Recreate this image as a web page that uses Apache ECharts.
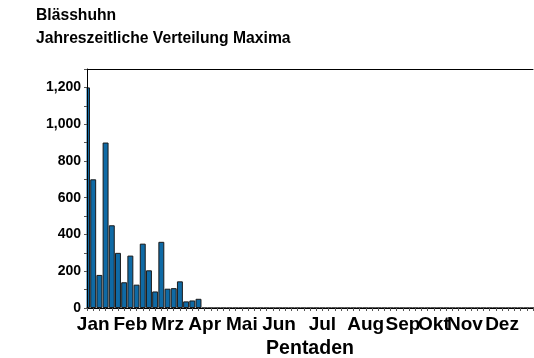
<!DOCTYPE html>
<html>
<head>
<meta charset="utf-8">
<script src="https://cdn.jsdelivr.net/npm/echarts@6/dist/echarts.min.js"></script>
<style>
  html, body { margin: 0; padding: 0; background: #fff; }
  #chart { width: 534px; height: 358px; }
</style>
</head>
<body>
<div id="chart"></div>
<script>
// Seasonal maxima per pentad (73 pentads per year)
const pentads = Array.from({ length: 73 }, (_, i) => String(i + 1));
const maxima = [
  1200, 700, 180, 900, 450, 300, 140, 285, 127, 350, 205, 90, 360, 105, 108, 145, 36, 41, 50,
  0, 0, 0, 0, 0, 0, 0, 0, 0, 0, 0, 0, 0, 0, 0, 0, 0, 0, 0, 0, 0, 0, 0, 0, 0, 0, 0, 0, 0,
  0, 0, 0, 0, 0, 0, 0, 0, 0, 0, 0, 0, 0, 0, 0, 0, 0, 0, 0, 0, 0, 0, 0, 0, 0
];
const monthNames = ['Jan', 'Feb', 'Mrz', 'Apr', 'Mai', 'Jun', 'Jul', 'Aug', 'Sep', 'Okt', 'Nov', 'Dez'];
const monthLabelPentad = [1, 7, 13, 19, 25, 31, 38, 45, 51, 56, 61, 67];
const yTicks = [0, 200, 400, 600, 800, 1000, 1200];

const FONT = 'Liberation Sans, Arial, sans-serif';
const chart = echarts.init(document.getElementById('chart'), null, { renderer: 'canvas' });

const GRID = { left: 87, top: 69, right: 1, bottom: 50 };

chart.setOption({
  animation: false,
  backgroundColor: '#fff',
  title: {
    text: 'Blässhuhn\nJahreszeitliche Verteilung Maxima',
    left: 36,
    top: 4,
    padding: 0,
    textStyle: { fontFamily: FONT, fontSize: 15.7, fontWeight: 'bold', color: '#000', lineHeight: 23 }
  },
  grid: Object.assign({ containLabel: false, outerBoundsMode: 'none' }, GRID),
  // white mask left of the value axis so the first bar is cut at the plot edge
  graphic: [{
    type: 'rect',
    z: 5,
    shape: { x: GRID.left - 7, y: GRID.top - 2, width: 6.5, height: 358 - GRID.top - GRID.bottom + 4 },
    style: { fill: '#fff' }
  }],
  xAxis: [{
    type: 'category',
    data: pentads,
    boundaryGap: false,
    z: 10,
    name: 'Pentaden',
    nameLocation: 'middle',
    nameGap: 30,
    nameTextStyle: { fontFamily: FONT, fontSize: 19.5, fontWeight: 'bold', color: '#000' },
    axisLine: { lineStyle: { color: '#000', width: 1 } },
    axisTick: { show: true, interval: 0, length: 3, lineStyle: { color: '#555' } },
    axisLabel: {
      interval: 0,
      margin: 7,
      fontFamily: FONT, fontSize: 19, fontWeight: 'bold', color: '#000',
      formatter: (v, i) => {
        const k = monthLabelPentad.indexOf(i);
        return k >= 0 ? monthNames[k] : '';
      }
    },
    splitLine: { show: false }
  }, {
    type: 'category',
    position: 'top',
    data: pentads,
    boundaryGap: false,
    z: 10,
    axisLine: { lineStyle: { color: '#000', width: 1 } },
    axisTick: { show: false },
    axisLabel: { show: false }
  }],
  yAxis: {
    type: 'value',
    min: 0,
    max: 1300,
    interval: 200,
    z: 10,
    axisLine: { show: true, lineStyle: { color: '#000', width: 1 } },
    axisTick: { show: true, length: 3, lineStyle: { color: '#555' } },
    minorTick: { show: true, splitNumber: 2, length: 3, lineStyle: { color: '#555' } },
    splitLine: { show: false },
    axisLabel: {
      margin: 6,
      fontFamily: FONT, fontSize: 14, fontWeight: 'bold', color: '#000',
      formatter: v => yTicks.includes(v) ? v.toLocaleString('en-US') : ''
    }
  },
  series: [{
    type: 'bar',
    data: maxima,
    barCategoryGap: '4%',
    itemStyle: { color: '#0f6aa5', borderColor: '#1a1a1a', borderWidth: 1 }
  }]
});
</script>
</body>
</html>
